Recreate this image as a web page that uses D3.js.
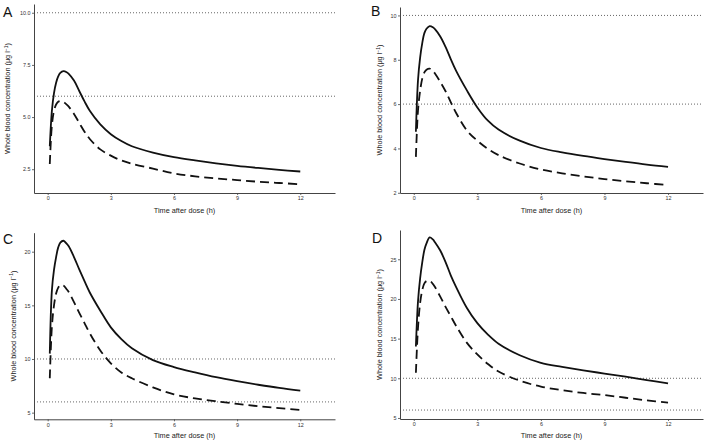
<!DOCTYPE html>
<html>
<head>
<meta charset="utf-8">
<script src="https://cdn.jsdelivr.net/npm/d3@7"></script>
<style>
  html, body { margin: 0; padding: 0; background: #fff; }
  svg { display: block; font-family: "Liberation Sans", Arial, Helvetica, sans-serif; }
</style>
</head>
<body>
<svg id="chart" width="709" height="441"></svg>
<script>
// ---- Data ----
const times = [0.1, 0.2, 0.3, 0.4, 0.5, 0.6, 0.75, 0.9, 1.0, 1.25, 1.5, 1.75, 2, 2.5, 3, 3.5, 4, 5, 6, 7, 8, 9, 10, 11, 12];

const solidA  = [3.6, 5.3, 6.15, 6.65, 6.95, 7.12, 7.2, 7.15, 7.07, 6.75, 6.25, 5.75, 5.3, 4.65, 4.18, 3.85, 3.6, 3.3, 3.08, 2.92, 2.78, 2.66, 2.56, 2.47, 2.39];
const dashedA = [2.75, 4.6, 5.3, 5.6, 5.73, 5.77, 5.72, 5.6, 5.5, 5.15, 4.72, 4.3, 3.95, 3.45, 3.15, 2.92, 2.76, 2.53, 2.3, 2.16, 2.06, 1.98, 1.9, 1.84, 1.78];

const solidB  = [4.75, 7.08, 8.1, 8.75, 9.2, 9.4, 9.52, 9.47, 9.38, 9.05, 8.58, 8.02, 7.5, 6.63, 5.85, 5.25, 4.85, 4.35, 4.02, 3.82, 3.66, 3.52, 3.39, 3.27, 3.17];
const dashedB = [3.62, 5.72, 6.6, 7.15, 7.43, 7.55, 7.6, 7.5, 7.38, 7.0, 6.58, 6.08, 5.6, 4.82, 4.35, 3.98, 3.7, 3.32, 3.05, 2.88, 2.74, 2.62, 2.52, 2.43, 2.35];

const solidC  = [10.5, 16.4, 18.3, 19.5, 20.4, 20.85, 21.02, 20.75, 20.5, 19.5, 18.35, 17.25, 16.2, 14.5, 12.95, 11.85, 11.0, 9.9, 9.25, 8.75, 8.3, 7.93, 7.6, 7.3, 7.05];
const dashedC = [8.2, 13.0, 15.0, 16.1, 16.65, 16.9, 16.85, 16.5, 16.25, 15.3, 14.3, 13.35, 12.4, 10.8, 9.6, 8.75, 8.2, 7.35, 6.7, 6.33, 6.06, 5.82, 5.6, 5.42, 5.25];

const solidD  = [14.0, 19.7, 22.6, 24.6, 26.16, 27.0, 27.75, 27.5, 27.15, 26.1, 24.65, 22.95, 21.5, 18.9, 16.95, 15.5, 14.35, 12.9, 11.95, 11.45, 11.0, 10.6, 10.2, 9.78, 9.37];
const dashedD = [10.7, 16.4, 19.5, 21.1, 21.96, 22.25, 22.3, 21.9, 21.5, 20.3, 19.0, 17.8, 16.6, 14.5, 13.0, 11.8, 10.85, 9.7, 8.95, 8.5, 8.15, 7.88, 7.55, 7.22, 6.93];

const refLines = [6, 10];
const xTicks = [0, 3, 6, 9, 12];
const yTicksA = [2.5, 5.0, 7.5, 10.0];
const yTicksB = [2, 4, 6, 8, 10];
const yTicksC = [5, 10, 15, 20];
const yTicksD = [5, 10, 15, 20, 25];
const panelLetters = ["A", "B", "C", "D"];
const xTitle = "Time after dose (h)";

// ---- Layout ----
const xDomain = [-0.65, 13.65];
const panels = [
  { letter: "A", solid: solidA, dashed: dashedA, ticks: yTicksA, fmt: d3.format(".1f"), yDomain: [1.36, 10.42],
    left: 34, right: 335, top: 4, bottom: 193, letterX: 3, letterY: 17, titleX: 10, xTitleY: 212.5 },
  { letter: "B", solid: solidB, dashed: dashedB, ticks: yTicksB, fmt: d3.format("d"), yDomain: [1.99, 10.38],
    left: 400, right: 703, top: 7, bottom: 193, letterX: 371, letterY: 16, titleX: 382, xTitleY: 212.5 },
  { letter: "C", solid: solidC, dashed: dashedC, ticks: yTicksC, fmt: d3.format("d"), yDomain: [4.38, 21.77],
    left: 34, right: 335, top: 232.7, bottom: 419.3, letterX: 3, letterY: 243.5, titleX: 15.5, xTitleY: 437.5 },
  { letter: "D", solid: solidD, dashed: dashedD, ticks: yTicksD, fmt: d3.format("d"), yDomain: [4.87, 28.69],
    left: 400, right: 703, top: 230, bottom: 419, letterX: 372, letterY: 243, titleX: 382, xTitleY: 437.5 }
];

const svg = d3.select("#chart");
const axisColor = "#444";

panels.forEach(p => {
  const x = d3.scaleLinear().domain(xDomain).range([p.left, p.right]);
  const y = d3.scaleLinear().domain(p.yDomain).range([p.bottom, p.top]);
  const g = svg.append("g");

  // reference dotted lines
  g.selectAll("line.ref").data(refLines.filter(v => v >= p.yDomain[0] && v <= p.yDomain[1]))
    .enter().append("line").attr("class", "ref")
    .attr("x1", p.left).attr("x2", p.right)
    .attr("y1", d => y(d)).attr("y2", d => y(d))
    .attr("stroke", "#555").attr("stroke-width", 0.9)
    .attr("stroke-dasharray", "1,2");

  // axes
  const xAxis = d3.axisBottom(x).tickValues(xTicks).tickSize(2).tickPadding(1.5).tickSizeOuter(0);
  const gx = g.append("g").attr("transform", `translate(0,${p.bottom})`).call(xAxis);
  const yAxis = d3.axisLeft(y).tickValues(p.ticks).tickFormat(p.fmt).tickSize(2).tickPadding(1.5).tickSizeOuter(0);
  const gy = g.append("g").attr("transform", `translate(${p.left},0)`).call(yAxis);
  [gx, gy].forEach(a => {
    a.select(".domain").attr("stroke", axisColor).attr("stroke-width", 1);
    a.selectAll(".tick line").attr("stroke", axisColor).attr("stroke-width", 0.8);
    a.selectAll(".tick text").attr("fill", "#333").style("font-size", "5.4px")
      .style("font-family", "'Liberation Sans', Arial, sans-serif");
  });

  // curves
  const line = d3.line().x((d, i) => x(times[i])).y(d => y(d)).curve(d3.curveCatmullRom.alpha(0.5));
  g.append("path").datum(p.solid).attr("d", line)
    .attr("fill", "none").attr("stroke", "#111").attr("stroke-width", 1.8);
  g.append("path").datum(p.dashed).attr("d", line)
    .attr("fill", "none").attr("stroke", "#111").attr("stroke-width", 1.8)
    .attr("stroke-dasharray", "9,5");

  // titles
  g.append("text").attr("x", (p.left + p.right) / 2).attr("y", p.xTitleY)
    .attr("text-anchor", "middle").style("font-size", "7.3px").attr("fill", "#222")
    .text(xTitle);
  const yt = g.append("text")
    .attr("transform", `translate(${p.titleX},${(p.top + p.bottom) / 2}) rotate(-90)`)
    .attr("text-anchor", "middle").style("font-size", "7.3px").attr("fill", "#222");
  yt.append("tspan").text("Whole blood concentration (μg l");
  yt.append("tspan").attr("dy", -2.5).style("font-size", "5px").text("−1");
  yt.append("tspan").attr("dy", 2.5).text(")");

  // panel letter
  g.append("text").attr("x", p.letterX).attr("y", p.letterY)
    .style("font-size", "14px").attr("fill", "#111").text(p.letter);
});
</script>
</body>
</html>
